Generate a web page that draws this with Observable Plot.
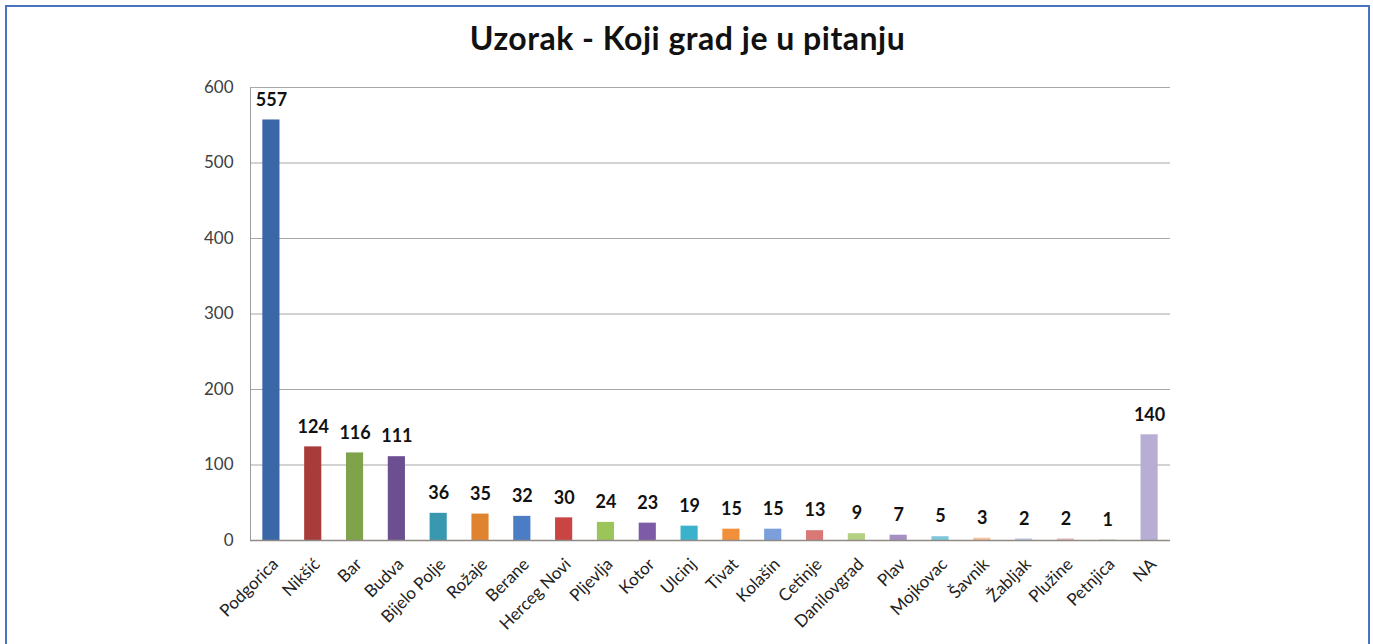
<!DOCTYPE html>
<html>
<head>
<meta charset="utf-8">
<script src="https://cdn.jsdelivr.net/npm/d3@7"></script>
<script src="https://cdn.jsdelivr.net/npm/@observablehq/plot@0.6"></script>
<style>
  html, body { margin: 0; padding: 0; background: #fff; overflow: hidden; }
  #frame { position: absolute; left: 5px; top: 5px; width: 1361px; height: 700px; border: 2px solid #4a74c0; background: #fff; overflow: hidden; }
  #title { position: absolute; left: 0; width: 100%; top: 11px; text-align: center; font-family: Lato, "Open Sans", sans-serif; font-weight: bold; font-size: 32px; letter-spacing: 0.5px; color: #111; }
  #chart { position: absolute; left: 0; top: 60px; }
</style>
</head>
<body>
<div id="frame">
  <div id="title">Uzorak - Koji grad je u pitanju</div>
  <div id="chart"></div>
</div>
<script>
const cities = ["Podgorica","Nikšić","Bar","Budva","Bijelo Polje","Rožaje","Berane","Herceg Novi","Pljevlja","Kotor","Ulcinj","Tivat","Kolašin","Cetinje","Danilovgrad","Plav","Mojkovac","Šavnik","Žabljak","Plužine","Petnjica","NA"];
const counts = [557,124,116,111,36,35,32,30,24,23,19,15,15,13,9,7,5,3,2,2,1,140];
const colors = ["#3a67a5","#a83c3a","#7fa34b","#6b4f90","#3a97b0","#e0832f","#4a7dc4","#c94442","#9bc45a","#7d5ba6","#3cb1cc","#f28f3a","#7a9fda","#da7876","#b3d083","#a490c2","#7fc7dc","#f8c199","#b9c8e6","#e5b7b6","#d5e2be","#b8aed3"];
const yTicks = [0,100,200,300,400,500,600];

const data = cities.map((c, i) => ({city: c, count: counts[i], color: colors[i]}));

const chart = Plot.plot({
  width: 1361,
  height: 620,
  marginLeft: 243,
  marginRight: 198,
  marginTop: 20,
  marginBottom: 147,
  style: {fontFamily: "Lato, 'Open Sans', sans-serif", background: "transparent"},
  x: {domain: cities, paddingInner: 0.59, paddingOuter: 0.295, round: false, label: null},
  y: {domain: [0, 600], label: null},
  marks: [
    Plot.gridY(yTicks, {stroke: "#8f8a86", strokeOpacity: 0.75, strokeWidth: 1}),
    Plot.frame({anchor: "left", stroke: "#a09a96"}),
    Plot.axisY(yTicks, {tickSize: 0, tickPadding: 17, fontSize: 17, fill: "#404040", label: null}),
    Plot.axisX({tickSize: 0, tickRotate: -45, fontSize: 17, fill: "#222", tickPadding: 6, dx: 4, dy: 15, label: null}),
    Plot.barY(data, {x: "city", y: "count", fill: "color"}),
    Plot.ruleY([0], {stroke: "#8f8a86", strokeWidth: 1.5}),
    Plot.text(data, {x: "city", y: "count", text: d => String(d.count), dy: -20, fontWeight: "bold", fontSize: 18, fill: "#111"})
  ]
});
document.getElementById("chart").appendChild(chart);
</script>
</body>
</html>
